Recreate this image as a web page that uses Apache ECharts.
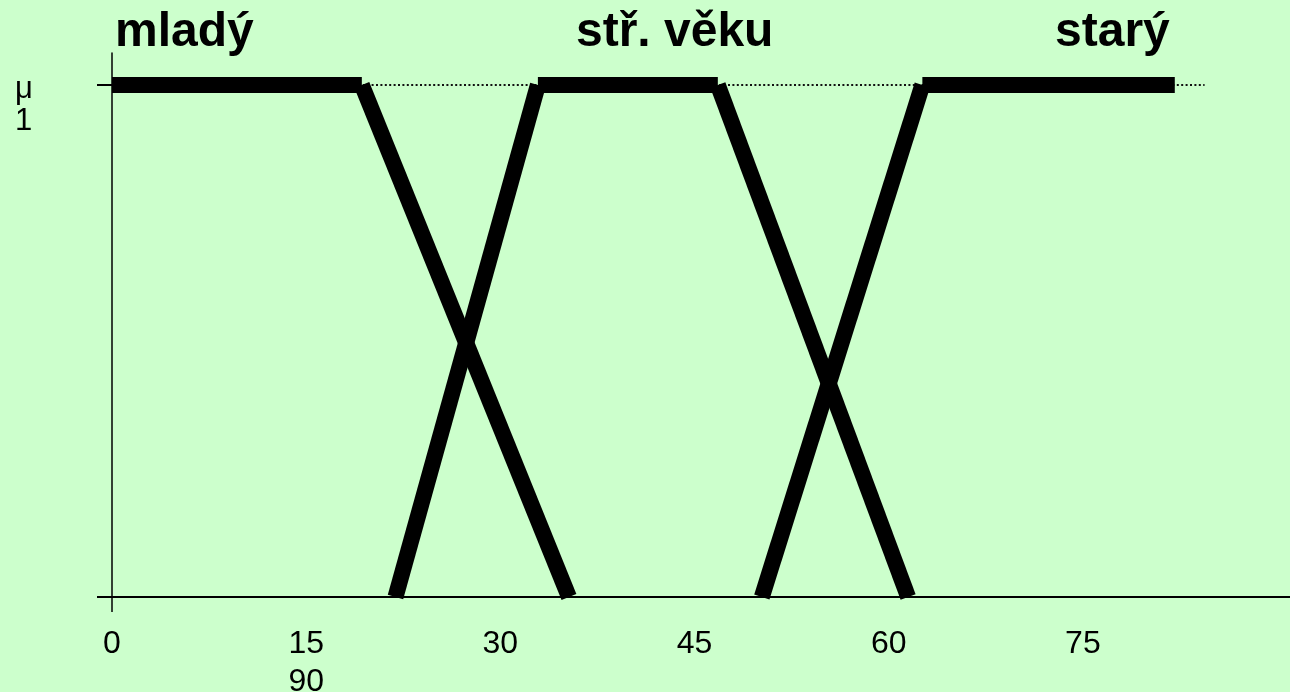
<!DOCTYPE html>
<html>
<head>
<meta charset="utf-8">
<script src="https://cdn.jsdelivr.net/npm/echarts@6/dist/echarts.min.js"></script>
<style>
    html, body {margin: 0; padding: 0; background: #ccffcc;}
    #chart {width: 1290px; height: 692px;}
</style>
</head>
<body>
<div id="chart"></div>
<script>
// membership functions: x = age, y = degree
let mladyX = [0, 19.3, 35.3];
let mladyY = [1, 1, 0];
let stredX = [21.9, 32.9, 46.8, 61.5];
let stredY = [0, 1, 1, 0];
let staryX = [50.2, 62.6, 82.1];
let staryY = [0, 1, 1];
// dotted reference line at mu = 1
let refX = [0, 84.4];
let refY = [1, 1];
let xTicks = [0, 15, 30, 45, 60, 75];
let names = ['mladý', 'stř. věku', 'starý'];

function segments(xs, ys) {
    let list = [];
    for (let i = 0; i < xs.length - 1; i++) {
        list.push({
            type: 'line',
            data: [[xs[i], ys[i]], [xs[i + 1], ys[i + 1]]],
            symbol: 'none',
            silent: true,
            z: 3,
            lineStyle: {color: '#000', width: 16, cap: 'butt'}
        });
    }
    return list;
}

let series = [{
    type: 'line',
    data: refX.map((x, i) => [x, refY[i]]),
    symbol: 'none',
    z: 2,
    lineStyle: {color: '#111', width: 2, type: [2, 2.4]}
}];
series = series.concat(segments(mladyX, mladyY), segments(stredX, stredY), segments(staryX, staryY));

let titleStyle = {fontSize: 48, fontWeight: 'bold', color: '#000', fontFamily: 'Liberation Sans, Arial'};
let titleLeft = [115, 576, 1055];

let myChart = echarts.init(document.getElementById('chart'));
let option = {
    animation: false,
    backgroundColor: '#ccffcc',
    title: names.map((t, i) => ({
        text: t,
        left: titleLeft[i],
        top: 9,
        padding: 0,
        textStyle: titleStyle
    })),
    grid: {
        left: 112,
        top: 53,
        width: 1178,
        height: 544,
        containLabel: false,
        outerBoundsMode: 'none'
    },
    xAxis: {
        type: 'value',
        min: 0,
        max: 91,
        interval: 15,
        splitLine: {show: false},
        axisLine: {show: true, onZero: false, lineStyle: {color: '#000', width: 2}},
        axisTick: {show: true, customValues: [0], length: 15, lineStyle: {color: '#000', width: 1.5}},
        axisLabel: {
            customValues: xTicks,
            margin: 28,
            fontSize: 32,
            lineHeight: 38,
            color: '#000',
            fontFamily: 'Liberation Sans, Arial',
            verticalAlign: 'top',
            formatter: v => v === 15 ? '15\n90' : String(v)
        }
    },
    yAxis: {
        type: 'value',
        min: 0,
        max: 1.0625,
        splitLine: {show: false},
        axisLine: {show: true, onZero: false, lineStyle: {color: '#000', width: 1.5}},
        axisTick: {show: true, customValues: [0, 1], length: 15, lineStyle: {color: '#000', width: 2}},
        axisLabel: {
            customValues: [1],
            margin: 97,
            align: 'left',
            verticalAlign: 'top',
            color: '#000',
            fontFamily: 'Liberation Sans, Arial',
            formatter: () => '{m|μ}\n{n|1}',
            rich: {
                m: {fontSize: 31, lineHeight: 8, fontFamily: 'Liberation Sans, Arial', color: '#000'},
                n: {fontSize: 31, lineHeight: 56, fontFamily: 'Liberation Sans, Arial', color: '#000'}
            }
        }
    },
    series: series
};
myChart.setOption(option);
</script>
</body>
</html>
